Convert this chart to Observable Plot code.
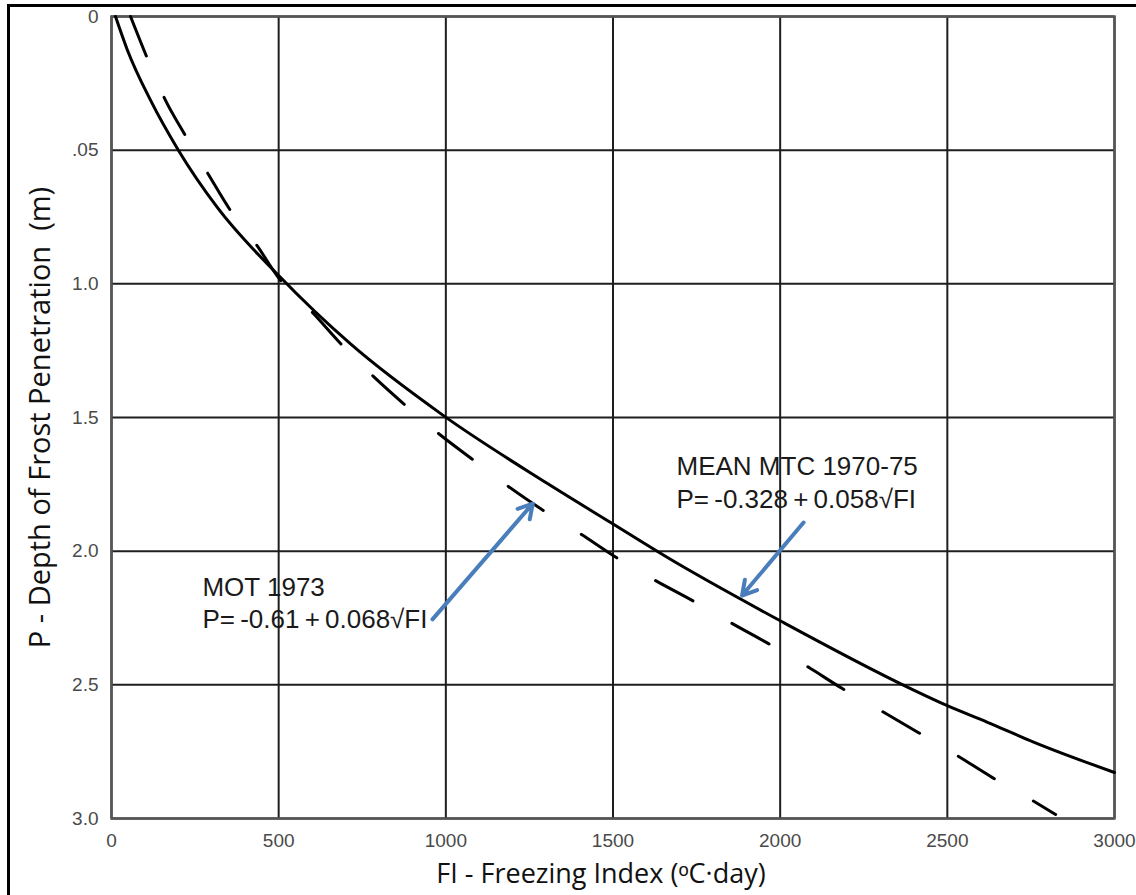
<!DOCTYPE html>
<html><head><meta charset="utf-8">
<script src="https://cdn.jsdelivr.net/npm/d3@7"></script>
<script src="https://cdn.jsdelivr.net/npm/@observablehq/plot@0.6"></script>
<style>
html,body{margin:0;padding:0;background:#fff;overflow:hidden;}
#wrap{position:relative;width:1136px;height:895px;overflow:hidden;}
#border{position:absolute;left:7px;top:4px;width:1200px;height:1000px;border:3px solid #000;}
#chart{position:absolute;left:0;top:0;}
</style></head><body>
<div id="wrap"><div id="border"></div><div id="chart"></div></div>
<script>
// tick values and labels
const xTicks = [0, 500, 1000, 1500, 2000, 2500, 3000];
const yTicks = [0, 0.5, 1, 1.5, 2, 2.5, 3];
const yTickLabels = ["0", ".05", "1.0", "1.5", "2.0", "2.5", "3.0"];

// MEAN MTC 1970-75 (solid)
const meanFI = [12, 48, 117, 200, 317, 500, 715, 993, 1304, 1493, 1663, 2010, 2390, 2500, 2620, 2758, 3000];
const meanP  = [0, 0.127, 0.314, 0.50, 0.715, 0.969, 1.225, 1.493, 1.747, 1.893, 2.024, 2.267, 2.514, 2.578, 2.640, 2.714, 2.828];

// MOT 1973 (dashed)
const motFI = [57, 105, 159, 221, 290, 356, 437, 497, 604, 688, 784, 876, 978, 1080, 1187, 1292, 1406, 1510, 1627, 1738, 1851, 1965, 2082, 2186, 2306, 2414, 2530, 2635, 2755, 2824];
const motP  = [0, 0.15, 0.307, 0.445, 0.591, 0.726, 0.860, 0.973, 1.111, 1.227, 1.347, 1.451, 1.560, 1.657, 1.758, 1.848, 1.938, 2.024, 2.110, 2.185, 2.267, 2.346, 2.432, 2.514, 2.600, 2.679, 2.765, 2.847, 2.933, 2.985];

// annotation texts (data units)
const noteText = ["MOT 1973", "P=\u2009-0.61\u2009+\u20090.068\u221AFI", "MEAN MTC 1970-75", "P=\u2009-0.328\u2009+\u20090.058\u221AFI"];
const noteFI   = [272, 272, 1690, 1690];
const noteP    = [2.136, 2.256, 1.683, 1.807];

// arrows (data units)
const arrowFrom = [[960, 2.255], [2070, 1.893]];
const arrowTo   = [[1260, 1.822], [1886, 2.166]];

const xLabel = "FI - Freezing Index (\u1D52C\u00B7day)";
const yLabel = "P - Depth of Frost Penetration  (m)";

const mean = meanFI.map((fi, i) => ({fi, p: meanP[i]}));
const mot = motFI.map((fi, i) => ({fi, p: motP[i]}));
const notes = noteText.map((t, i) => ({t, fi: noteFI[i], p: noteP[i]}));
const arrows = arrowFrom.map((a, i) => ({x1: a[0], y1: a[1], x2: arrowTo[i][0], y2: arrowTo[i][1]}));

const chart = Plot.plot({
  width: 1136,
  height: 895,
  marginLeft: 111,
  marginRight: 22,
  marginTop: 16,
  marginBottom: 77,
  style: {background: "transparent", color: "#4a4a4a", fontSize: "19px", fontFamily: "'Liberation Sans', Arial, sans-serif"},
  x: {domain: [0, 3000], ticks: xTicks, label: null},
  y: {domain: [0, 3], reverse: true, ticks: yTicks, label: null},
  marks: [
    Plot.gridX(xTicks, {stroke: "#1e1e1e", strokeOpacity: 1, strokeWidth: 2}),
    Plot.gridY(yTicks, {stroke: "#1e1e1e", strokeOpacity: 1, strokeWidth: 2}),
    Plot.frame({stroke: "#555", strokeWidth: 2.5}),
    Plot.axisX(xTicks, {tickSize: 0, tickPadding: 15, fontSize: 19, fill: "#4a4a4a", label: null, tickFormat: d => String(d)}),
    Plot.axisY(yTicks, {tickSize: 0, tickPadding: 13, fontSize: 19, fill: "#4a4a4a", label: null,
      tickFormat: d => yTickLabels[yTicks.indexOf(d)]}),
    Plot.line(mean, {x: "fi", y: "p", curve: "monotone-x", stroke: "#000", strokeWidth: 3}),
    Plot.line(mot, {x: "fi", y: "p", curve: "monotone-x", stroke: "#000", strokeWidth: 3, strokeDasharray: "42.5,45"}),
    Plot.arrow(arrows, {x1: "x1", y1: "y1", x2: "x2", y2: "y2", stroke: "#4a7ebb", strokeWidth: 4, headLength: 6, headAngle: 60}),
    Plot.text(notes, {x: "fi", y: "p", text: "t", textAnchor: "start", lineAnchor: "middle", fontSize: 26, fill: "#1a1a1a", fontFamily: "'Liberation Sans', Arial, sans-serif"}),
    Plot.text([xLabel], {text: d => d, frameAnchor: "bottom", textAnchor: "middle", dy: 56, dx: -12, lineAnchor: "middle", fontSize: 27, fill: "#111", fontFamily: "'Open Sans', sans-serif"}),
    Plot.text([yLabel], {text: d => d, frameAnchor: "left", textAnchor: "middle", dx: -71, rotate: -90, lineAnchor: "middle", fontSize: 29, fill: "#111", fontFamily: "'Open Sans', sans-serif"})
  ]
});
document.getElementById("chart").appendChild(chart);
</script>
</body></html>
